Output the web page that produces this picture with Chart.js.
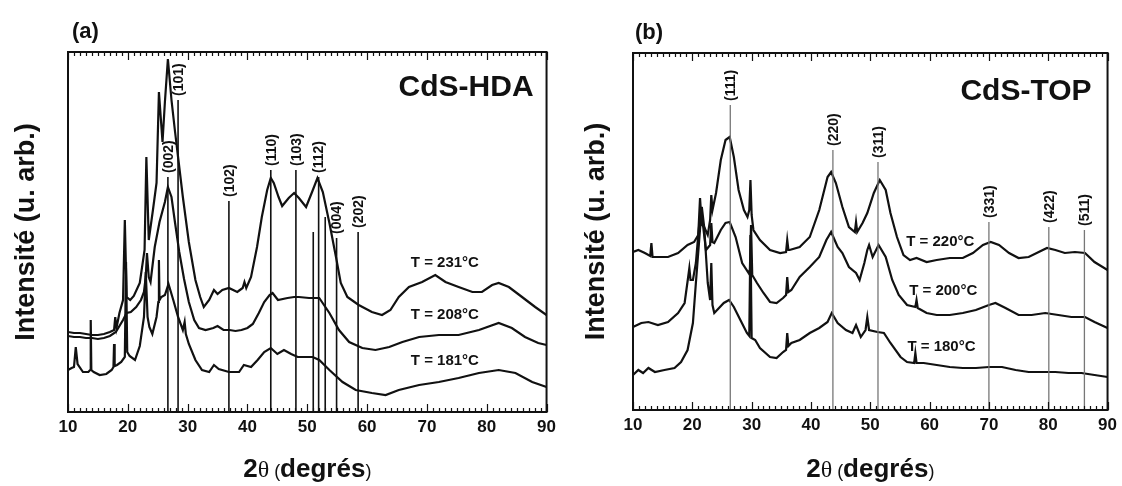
<!DOCTYPE html>
<html>
<head>
<meta charset="utf-8">
<script src="https://cdn.jsdelivr.net/npm/chart.js@4.4.1/dist/chart.umd.min.js"></script>
<style>
  html, body { margin: 0; padding: 0; background: #fff; }
  #wrap { position: relative; width: 1122px; height: 486px; overflow: hidden; }
  .panel { position: absolute; top: 0; width: 561px; height: 486px; }
</style>
</head>
<body>
<div id="wrap">
  <div class="panel" style="left:0"><canvas id="chartHDA" width="561" height="486"></canvas></div>
  <div class="panel" style="left:561px"><canvas id="chartTOP" width="561" height="486"></canvas></div>
</div>
<script>
/* ---------- data: [2theta, intensity (arb.)] ---------- */
const xTickValues = [10, 20, 30, 40, 50, 60, 70, 80, 90];

// (a) CdS-HDA
const hda231 = [
  [10,80],[11,79],[12,79],[13,78],[14,77],[15,77],[16,78],[17,80],[17.7,82],[17.9,95],[18.1,84],
  [18.6,99],[19.2,112],[19.5,192],[19.8,115],[20.4,112],[21,116],[22,129],[22.8,162],[23.1,255],
  [23.5,172],[24.2,202],[24.8,229],[25.2,320],[25.8,270],[26.2,310],[26.7,353],[27.3,312],[27.9,280],
  [28.4,255],[29.2,215],[30.2,170],[31.3,132],[32.1,115],[32.7,105],[33.6,112],[34.4,122],[35,118],
  [35.8,122],[36.9,124],[38.3,120],[39.2,124],[39.5,130],[39.8,124],[40.6,135],[41.6,165],[42.4,195],
  [43.3,222],[43.9,234],[44.4,229],[45.2,215],[45.8,206],[46.9,214],[47.8,219],[48.6,214],[49.8,205],
  [50.8,220],[51.7,234],[52.6,220],[53.7,189],[54.8,155],[55.6,129],[56.7,115],[58.6,107],[60.8,100],
  [62.5,97],[63.9,102],[65.3,115],[67,125],[69.2,130],[71.4,137],[73.1,130],[75.3,125],[77.6,120],
  [79.2,120],[80.9,127],[82,129],[83.7,125],[85.9,115],[88.1,105],[90,97]
];
const hda208 = [
  [10,76],[11,75],[12,75],[13,74],[14,74],[15,73],[16,74],[17,76],[18,80],[18.6,86],[19.2,92],
  [19.8,99],[20.5,100],[21.4,105],[22.2,112],[22.7,120],[23.0,135],[23.2,159],[23.5,135],[23.8,130],
  [24.5,165],[25.3,190],[26.2,210],[26.7,225],[27.3,215],[27.9,189],[28.6,160],[29.4,133],[30.2,110],
  [31.1,92],[31.9,84],[33,82],[34.3,84],[35,86],[36,82],[37,82],[38,81],[39,82],[40,84],[40.9,88],
  [41.9,99],[42.8,110],[43.7,117],[44.2,119],[45.1,112],[46.7,114],[47.8,115],[48.6,115],[50.3,114],
  [52,114],[53.7,99],[55.3,82],[57,70],[59.2,64],[61.4,62],[63.7,65],[65.9,70],[68.7,75],[72,77],
  [75.3,77],[78.7,82],[82,89],[84.2,84],[86.4,75],[88.6,69],[90,67]
];
const hda181 = [
  [10,42],[10.6,44],[11,45],[11.3,65],[11.6,48],[12.5,40],[13.4,40],[13.7,42],[13.8,92],[13.9,42],
  [14.3,40],[15.3,37],[16.4,38],[17.3,42],[17.6,45],[17.7,68],[17.8,46],[18.2,47],[18.9,50],[19.5,55],
  [19.7,150],[19.9,60],[20.3,56],[21.2,52],[22,66],[22.7,95],[23,140],[23.3,95],[23.6,85],[24.1,78],
  [24.8,95],[25.1,110],[25.2,152],[25.3,112],[25.6,115],[26.2,117],[26.8,128],[27.6,112],[28.4,95],
  [29.2,82],[29.5,90],[29.7,78],[30.2,68],[31.3,52],[32.4,42],[33.6,40],[34.4,47],[35.2,43],[36.9,40],
  [38.6,40],[39.4,47],[40.6,45],[41.7,52],[42.8,60],[43.9,64],[45,58],[46.1,62],[47.3,58],[48.4,55],
  [50.9,55],[52,52],[53.7,42],[55.9,30],[58.1,22],[60.8,19],[63.1,17],[65.3,22],[68.7,27],[72,30],
  [75.3,34],[78.7,39],[82,42],[84.8,39],[87.6,30],[90,25]
];
// reference reflections: [label, 2theta, line height]
const hdaPeaks = [
  ['(002)', 26.7, 235], ['(101)', 28.4, 312], ['(102)', 36.9, 211], ['(110)', 43.9, 242],
  ['(103)', 48.1, 242], ['', 51.0, 180], ['(112)', 51.9, 235], ['', 53.0, 195],
  ['(004)', 54.9, 174], ['(202)', 58.5, 180]
];
const hdaTemps = [['T = 231°C', 73, 149], ['T = 208°C', 73, 97], ['T = 181°C', 73, 51]];

// (b) CdS-TOP
const top220 = [
  [10,158],[10.9,160],[12,157],[12.9,154],[13.1,167],[13.3,153],[14.2,153],[15.9,153],[17.6,157],
  [19.2,165],[20.3,168],[21.0,175],[21.3,212],[21.6,185],[22.0,183],[22.6,175],[23.0,190],[23.2,215],
  [23.4,200],[24.0,217],[24.8,250],[25.6,270],[26.3,273],[27.0,253],[27.8,220],[28.7,200],[29.3,193],
  [29.6,200],[29.8,230],[30.0,195],[30.3,180],[31.4,170],[33.1,160],[34.8,157],[35.8,158],[36.0,170],
  [36.2,160],[36.4,160],[38.1,163],[39.8,173],[41.4,200],[42.8,233],[43.4,238],[44.2,227],[45.3,203],
  [46.4,183],[47.4,178],[47.6,188],[47.8,178],[48.7,187],[49.5,197],[50.6,217],[51.6,230],[52.6,220],
  [53.4,197],[54.5,173],[55.6,155],[56.7,150],[57.8,152],[59.5,148],[61.2,150],[63.4,152],[65.6,152],
  [67.3,157],[69,165],[70.3,168],[71.7,165],[73.4,157],[75,152],[76.7,153],[78.4,158],[79.8,162],
  [81.2,160],[82.8,157],[84.5,158],[86.2,157],[87.8,148],[90,140]
];
const top200 = [
  [10,83],[11.4,87],[12.6,88],[14.2,85],[15.9,88],[17.6,97],[18.7,107],[19.3,133],[19.5,142],[19.7,130],
  [20.1,130],[20.6,147],[21.0,175],[21.4,200],[21.8,185],[22.3,160],[23.0,165],[23.2,187],[23.4,168],
  [23.7,167],[24.8,180],[25.6,187],[26.3,188],[27.3,173],[28.4,147],[29.5,137],[29.7,140],[29.9,185],
  [30.1,135],[30.9,127],[32,117],[33.1,108],[34.2,107],[35.3,112],[35.8,115],[36.0,133],[36.2,118],
  [36.7,120],[38.1,133],[39.8,143],[41.4,153],[42.6,170],[43.4,178],[44.5,163],[45.3,157],[46.4,143],
  [47.6,137],[48.2,130],[49.0,147],[49.5,160],[49.8,165],[50.4,153],[51.4,165],[52.6,153],[53.7,130],
  [54.8,115],[56.2,105],[57.6,103],[57.8,110],[58.0,102],[59.5,97],[61.2,95],[63.4,95],[65.6,97],
  [67.8,100],[70,105],[71.1,107],[72.8,102],[75,95],[77.2,95],[79.5,97],[81.7,95],[83.9,93],[86.2,93],
  [87.8,88],[90,82]
];
const top180 = [
  [10,35],[10.9,40],[11.7,37],[12.6,42],[13.7,38],[15.3,40],[17,42],[18.1,48],[19.2,60],[20.1,87],
  [20.6,127],[21.2,173],[21.6,203],[22.0,183],[22.6,127],[23.0,110],[23.2,147],[23.4,105],[23.7,97],
  [24.5,102],[25.3,107],[26.2,110],[27.0,103],[28.1,90],[29.2,77],[29.6,74],[29.8,175],[30.0,72],
  [30.6,70],[31.4,62],[33.1,53],[34.2,52],[35.3,58],[35.8,60],[36.0,77],[36.2,64],[36.7,67],[38.1,70],
  [39.8,77],[41.4,82],[42.8,88],[43.5,97],[44.5,87],[45.9,80],[47.0,77],[47.6,85],[48.4,73],[49.2,80],
  [49.5,93],[49.8,80],[51.2,78],[52.3,77],[53.4,67],[55.1,53],[56.2,48],[57.4,47],[57.6,57],[57.8,47],
  [59,47],[61.2,45],[63.4,43],[65.6,42],[67.8,42],[70,43],[72.2,43],[74.5,40],[76.7,38],[78.9,38],
  [81.2,38],[83.4,37],[85.6,37],[87.8,35],[90,33]
];
const topPeaks = [
  ['(111)', 26.4, 305], ['(220)', 43.7, 260], ['(311)', 51.3, 248],
  ['(331)', 70.0, 188], ['(422)', 80.1, 183], ['(511)', 86.1, 180]
];
const topTemps = [['T = 220°C', 61.8, 168], ['T = 200°C', 62.3, 119], ['T = 180°C', 62.0, 63]];

/* ---------- drawing ---------- */
const FONT = '"Liberation Sans", Arial, sans-serif';
const INK = '#111';

// frame with inward ticks, hkl labels, temperatures, panel captions, mixed-font x title
const xrdDecor = {
  id: 'xrdDecor',
  afterDatasetsDraw(chart, args, o) {
    const { ctx, chartArea: a, scales: { x, y } } = chart;
    ctx.save();
    ctx.strokeStyle = INK;
    ctx.lineWidth = 2;
    ctx.strokeRect(a.left, a.top, a.right - a.left, a.bottom - a.top);

    ctx.lineWidth = 1.2;
    ctx.beginPath();
    for (let d = 10; d <= 90; d++) {
      const px = Math.round(x.getPixelForValue(d)) + 0.5;
      const len = d % 10 === 0 ? 8 : 4;
      ctx.moveTo(px, a.top); ctx.lineTo(px, a.top + len);
      ctx.moveTo(px, a.bottom); ctx.lineTo(px, a.bottom - len);
    }
    ctx.stroke();

    ctx.fillStyle = INK;
    ctx.font = 'bold 14px ' + FONT;
    ctx.textAlign = 'left';
    ctx.textBaseline = 'middle';
    o.peaks.forEach(([label, pos, h]) => {
      if (!label) return;
      ctx.save();
      ctx.translate(x.getPixelForValue(pos) + 1, y.getPixelForValue(h) - 4);
      ctx.rotate(-Math.PI / 2);
      ctx.fillText(label, 0, 0);
      ctx.restore();
    });

    ctx.font = 'bold 15px ' + FONT;
    ctx.textAlign = 'center';
    o.temps.forEach(([label, pos, h]) => {
      ctx.fillText(label, x.getPixelForValue(pos), y.getPixelForValue(h));
    });

    ctx.font = 'bold 22px ' + FONT;
    ctx.textAlign = 'left';
    ctx.fillText(o.letter, a.left + o.letterDx, a.top - 20);

    ctx.font = 'bold 30px ' + FONT;
    ctx.textAlign = 'right';
    ctx.fillText(o.sample, a.right - o.sampleDx, a.top + o.sampleDy);

    // "2θ (degrés)" with the original's mixed fonts
    const parts = [
      ['2', 'bold 26px ' + FONT],
      ['θ', '24px "Liberation Serif", serif'],
      [' (', '18px ' + FONT],
      ['degrés', 'bold 26px ' + FONT],
      [')', '18px ' + FONT]
    ];
    let total = 0;
    parts.forEach(p => { ctx.font = p[1]; total += ctx.measureText(p[0]).width; });
    let cx = (a.left + a.right) / 2 - total / 2;
    ctx.textAlign = 'left';
    ctx.textBaseline = 'alphabetic';
    parts.forEach(p => {
      ctx.font = p[1];
      ctx.fillText(p[0], cx, 477);
      cx += ctx.measureText(p[0]).width;
    });
    ctx.restore();
  }
};

function makePanel(id, cfg) {
  const lines = cfg.peaks.map(p => ({
    data: [{ x: p[1], y: 0 }, { x: p[1], y: p[2] }],
    borderColor: cfg.lineColor, borderWidth: cfg.lineWidth, pointRadius: 0
  }));
  const curves = cfg.curves.map(c => ({
    data: c.map(p => ({ x: p[0], y: p[1] })),
    borderColor: INK, borderWidth: 2.2, pointRadius: 0, tension: 0
  }));

  new Chart(document.getElementById(id), {
    type: 'line',
    data: { datasets: [...lines, ...curves] },
    options: {
      responsive: false,
      animation: false,
      devicePixelRatio: 1,
      layout: { padding: { top: cfg.top, right: cfg.right, bottom: 0, left: 0 } },
      plugins: {
        legend: { display: false },
        tooltip: { enabled: false },
        xrdDecor: {
          peaks: cfg.peaks, temps: cfg.temps, letter: cfg.letter, letterDx: cfg.letterDx,
          sample: cfg.sample, sampleDx: cfg.sampleDx, sampleDy: cfg.sampleDy
        }
      },
      scales: {
        x: {
          type: 'linear', min: 10, max: 90,
          afterFit: s => { s.height = 486 - cfg.bottom; },
          afterBuildTicks: s => { s.ticks = xTickValues.map(v => ({ value: v })); },
          grid: { display: false, drawTicks: false },
          border: { display: false },
          ticks: { padding: 5, maxRotation: 0, autoSkip: false, color: INK,
                   font: { family: FONT, size: 17, weight: 'bold' } }
        },
        y: {
          min: 0, max: cfg.yMax,
          afterFit: s => { s.width = cfg.left; },
          grid: { display: false, drawTicks: false },
          border: { display: false },
          ticks: { display: false },
          title: { display: true, text: 'Intensité (u. arb.)', color: INK,
                   font: { family: FONT, size: 27, weight: 'bold' },
                   padding: { top: cfg.yTitlePad, bottom: 0 } }
        }
      }
    },
    plugins: [xrdDecor]
  });
}

makePanel('chartHDA', {
  curves: [hda231, hda208, hda181], peaks: hdaPeaks, temps: hdaTemps,
  lineColor: INK, lineWidth: 1.6,
  top: 52, bottom: 412, left: 68, right: 13, yMax: 360, yTitlePad: 10,
  letter: '(a)', letterDx: 4, sample: 'CdS-HDA', sampleDx: 13, sampleDy: 36
});

makePanel('chartTOP', {
  curves: [top220, top200, top180], peaks: topPeaks, temps: topTemps,
  lineColor: '#777', lineWidth: 1.3,
  top: 53, bottom: 410, left: 72, right: 10, yMax: 357, yTitlePad: 19,
  letter: '(b)', letterDx: 2, sample: 'CdS-TOP', sampleDx: 16, sampleDy: 39
});
</script>
</body>
</html>
